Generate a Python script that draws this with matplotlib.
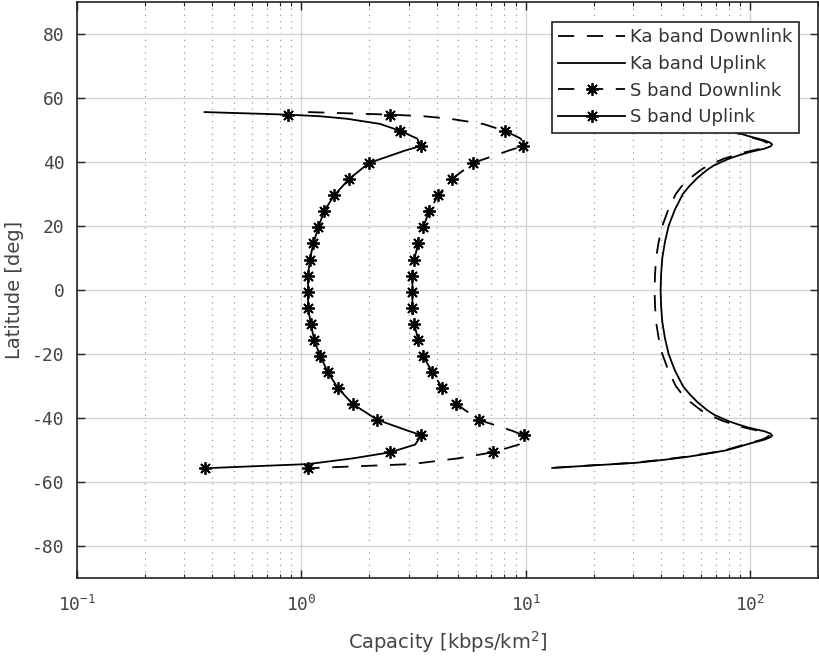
import math
import matplotlib.pyplot as plt
from matplotlib.lines import Line2D
from matplotlib.ticker import FuncFormatter, LogLocator, NullFormatter, MultipleLocator

plt.rcParams['axes.unicode_minus'] = False

# Ka band curves (same latitude samples for both)
ka_lat = [55.6, 54.8, 54.0, 53.0, 52.0, 51.0, 50.1, 49.0, 48.0, 46.8, 46.1, 45.5, 44.9,
          44.2, 43.0, 42.0, 41.0, 39.0, 37.5, 35.0, 32.5, 30.0, 25.0, 20.0, 15.0, 10.0,
          5.0, 0.0, -5.0, -10.0, -15.0, -20.0, -25.0, -30.0, -32.5, -35.0, -37.5, -39.0,
          -41.0, -42.0, -43.0, -44.2, -44.9, -45.5, -46.1, -46.8, -48.0, -49.0, -50.1,
          -51.0, -52.0, -53.0, -54.0, -54.8, -55.6]
ka_ul_cap = [13.1, 20, 31, 42, 54, 66, 78, 89, 99, 115, 122, 125, 123,
             116, 98, 88, 80, 69, 64, 58, 53.5, 50, 46, 43.2, 41.6, 40.5,
             40.0, 39.8, 40.0, 40.5, 41.6, 43.2, 46, 50, 53.5, 58, 64, 69,
             80, 88, 98, 116, 123, 125, 122, 115, 99, 89, 78,
             66, 54, 42, 31, 20, 13.1]
ka_dl_cap = [13.1, 19.5, 30, 41, 53, 65, 77, 87, 97, 112, 118, 121, 119,
             112, 94, 84, 76, 65, 60, 54, 49.5, 46.5, 43, 40.5, 39.0, 38.0,
             37.6, 37.4, 37.6, 38.0, 39.0, 40.5, 43, 46.5, 49.5, 54, 60, 65,
             76, 84, 94, 112, 119, 121, 118, 112, 97, 87, 77,
             65, 53, 41, 30, 19.5, 13.1]

# S band curves
s_lat = [55.6, 54.8, 54.3, 53.5, 51.9, 49.7, 47.3, 45.0, 43.6, 39.7, 34.7, 29.6, 24.6,
         19.6, 14.6, 9.5, 4.5, -0.5, -5.5, -10.6, -15.6, -20.6, -25.6, -30.6, -35.6,
         -40.6, -43.9, -45.4, -48.3, -50.7, -52.6, -54.4, -55.7]
s_ul_cap = [0.37, 0.87, 1.21, 1.60, 2.24, 2.76, 3.28, 3.40, 2.90, 2.00, 1.63, 1.40, 1.26,
            1.19, 1.13, 1.09, 1.07, 1.07, 1.07, 1.10, 1.14, 1.21, 1.31, 1.45, 1.69,
            2.18, 2.96, 3.42, 3.21, 2.49, 1.70, 1.07, 0.37]
s_dl_cap = [1.07, 2.49, 3.5, 4.6, 6.44, 8.07, 9.5, 9.75, 8.4, 5.81, 4.69, 4.06, 3.71,
            3.48, 3.31, 3.18, 3.12, 3.12, 3.12, 3.18, 3.31, 3.48, 3.82, 4.24, 4.89,
            6.18, 8.6, 9.80, 9.3, 7.13, 5.0, 3.1, 1.07]
# samples that carry a marker
s_marks = [1, 5, 7, 9, 10, 11, 12, 13, 14, 15, 16, 17, 18, 19, 20, 21, 22, 23, 24, 25,
           27, 29, 32]

labels = ["Ka band Downlink", "Ka band Uplink", "S band Downlink", "S band Uplink"]

ast = (8, 2, 0)
dash = (9, 7)
lw = 1.3

fig = plt.figure(figsize=(8.2, 6.66), dpi=100)
ax = fig.add_axes([77 / 820, 88 / 666, 741 / 820, 576 / 666])

ax.plot(ka_dl_cap, ka_lat, color='k', lw=lw, dashes=dash)
ax.plot(ka_ul_cap, ka_lat, color='k', lw=lw)
ax.plot(s_dl_cap, s_lat, color='k', lw=lw, dashes=dash,
        marker=ast, ms=9, mew=1.3, markevery=s_marks)
ax.plot(s_ul_cap, s_lat, color='k', lw=lw,
        marker=ast, ms=9, mew=1.3, markevery=s_marks)

ax.set_xscale('log')
ax.set_xlim(0.1, 200)
ax.set_ylim(-90, 90)
ax.yaxis.set_major_locator(MultipleLocator(20))
ax.xaxis.set_major_locator(LogLocator(base=10))
ax.xaxis.set_minor_locator(LogLocator(base=10, subs=range(2, 10)))
ax.xaxis.set_minor_formatter(NullFormatter())
ax.xaxis.set_major_formatter(
    FuncFormatter(lambda v, p: r'$\mathregular{10^{%d}}$' % round(math.log10(v))))

ax.grid(True, which='major', color='#d4d4d4', lw=1.0, ls='-')
ax.grid(True, which='minor', axis='x', color='#9a9a9a', lw=0.9, ls=(0, (1, 4)))
ax.set_axisbelow(True)

ax.tick_params(which='both', direction='in', top=True, right=True, colors='#222222',
               labelcolor='#444444')
ax.tick_params(which='major', length=6, width=1.0, labelsize=13)
ax.tick_params(axis='y', which='major', pad=9)
ax.tick_params(axis='x', which='major', pad=12)
ax.tick_params(which='minor', length=3, width=0.8)
for t in ax.get_xticklabels() + ax.get_yticklabels():
    t.set_family('DejaVu Sans Mono')
for s in ax.spines.values():
    s.set_color('#222222')
    s.set_linewidth(1.2)

ax.set_xlabel(r'Capacity [kbps/km$^2$]', fontsize=14, color='#444444', labelpad=10)
ax.set_ylabel('Latitude [deg]', fontsize=14, color='#444444', labelpad=6)

handles = [
    Line2D([], [], color='k', lw=lw, dashes=dash),
    Line2D([], [], color='k', lw=lw),
    Line2D([], [], color='k', lw=lw, dashes=dash, marker=ast, ms=9, mew=1.3),
    Line2D([], [], color='k', lw=lw, marker=ast, ms=9, mew=1.3),
]
leg = ax.legend(handles, labels, loc='upper right', bbox_to_anchor=(0.9744, 0.965),
                borderaxespad=0, fontsize=13, handlelength=3.7, handletextpad=0.3,
                labelspacing=0.48, fancybox=False, framealpha=1, edgecolor='#222222',
                borderpad=0.35, numpoints=1)
leg.get_frame().set_linewidth(1.2)
for t in leg.get_texts():
    t.set_color('#333333')

fig.savefig('out.png', dpi=100)
